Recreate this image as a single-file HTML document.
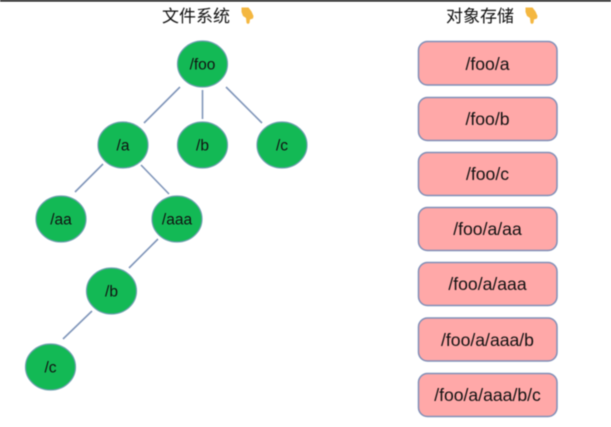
<!DOCTYPE html>
<html><head><meta charset="utf-8"><style>
html,body{margin:0;padding:0;background:#fff}
body{width:611px;height:427px;overflow:hidden}
svg{display:block;filter:blur(.4px)}
text{font-family:"Liberation Sans","Noto Sans CJK SC",sans-serif;fill:#111;text-anchor:middle}
.n{font-size:15.5px}
.r{font-size:17.6px}
.t{font-size:17px;text-anchor:start}
ellipse{fill:#13b955;stroke:#6f9fb0;stroke-width:1.2}
rect.b{fill:#ffa8a8;stroke:#7f8fb8;stroke-width:1.5}
line{stroke:#8096ba;stroke-width:1.6}
</style></head><body>
<svg width="611" height="427" viewBox="0 0 611 427" xmlns="http://www.w3.org/2000/svg">
<rect x="0" y="0" width="611" height="1.6" style="fill:#111"/>
<text class="t" x="162" y="22">文件系统</text>
<text class="t" x="446" y="22">对象存储</text>
<g fill="#f4b740">
<path d="M241.5 7.5h7l3 4 2 4.5-.5 2.5-3 1-.5 3.5-1.5 1-1.5-1-.5-5-3-2-1.5-4z"/>
<path d="M525.5 7.5h7l3 4 2 4.5-.5 2.5-3 1-.5 3.5-1.5 1-1.5-1-.5-5-3-2-1.5-4z"/>
</g>
<line x1="180" y1="87" x2="144" y2="123"/>
<line x1="202.5" y1="90" x2="202.5" y2="119"/>
<line x1="226" y1="87" x2="262" y2="123"/>
<line x1="103" y1="164" x2="75" y2="192"/>
<line x1="141" y1="165" x2="169" y2="194"/>
<line x1="158" y1="239" x2="129" y2="268"/>
<line x1="92" y1="311" x2="63" y2="339"/>
<ellipse cx="202.5" cy="64" rx="25" ry="23"/>
<ellipse cx="123" cy="145" rx="25" ry="23"/>
<ellipse cx="202.5" cy="145" rx="25" ry="23"/>
<ellipse cx="282" cy="145" rx="25" ry="23"/>
<ellipse cx="61" cy="219" rx="25" ry="23"/>
<ellipse cx="177" cy="219" rx="25" ry="23"/>
<ellipse cx="111.5" cy="291" rx="25" ry="23"/>
<ellipse cx="50.5" cy="367" rx="25" ry="23"/>
<text class="n" x="202.5" y="69.5">/foo</text>
<text class="n" x="123" y="150.5">/a</text>
<text class="n" x="202.5" y="150.5">/b</text>
<text class="n" x="282" y="150.5">/c</text>
<text class="n" x="61" y="224.5">/aa</text>
<text class="n" x="177" y="224.5">/aaa</text>
<text class="n" x="111.5" y="296.5">/b</text>
<text class="n" x="50.5" y="372.5">/c</text>
<rect class="b" x="418.5" y="41.5" width="138.5" height="43.5" rx="9"/>
<rect class="b" x="418.5" y="97.5" width="138.5" height="43" rx="9"/>
<rect class="b" x="418.5" y="152.5" width="138.5" height="43" rx="9"/>
<rect class="b" x="418.5" y="207.5" width="138.5" height="43" rx="9"/>
<rect class="b" x="418.5" y="262.5" width="138.5" height="43" rx="9"/>
<rect class="b" x="418.5" y="318" width="138.5" height="43" rx="9"/>
<rect class="b" x="418.5" y="373.5" width="138.5" height="43" rx="9"/>
<text class="r" x="487.5" y="70">/foo/a</text>
<text class="r" x="487.5" y="125">/foo/b</text>
<text class="r" x="487.5" y="180">/foo/c</text>
<text class="r" x="487.5" y="235">/foo/a/aa</text>
<text class="r" x="487.5" y="290">/foo/a/aaa</text>
<text class="r" x="487.5" y="346">/foo/a/aaa/b</text>
<text class="r" x="487.5" y="401">/foo/a/aaa/b/c</text>
</svg>
</body></html>
